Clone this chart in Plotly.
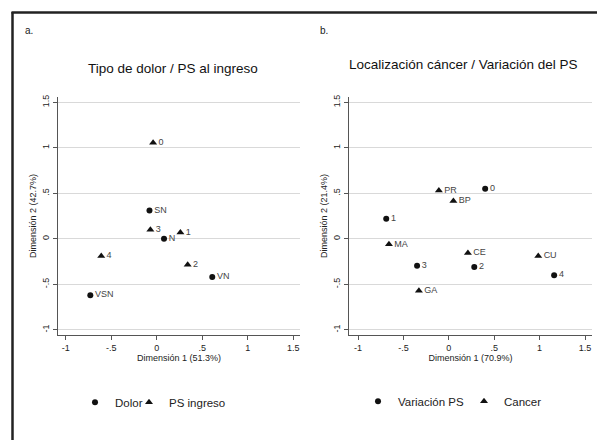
import plotly.graph_objects as go

# ---- Data (panel a) ----
dolor_labels = ["SN", "N", "VN", "VSN"]
dolor_x = [-0.08, 0.08, 0.61, -0.73]
dolor_y = [0.31, 0.0, -0.42, -0.62]

psing_labels = ["0", "1", "2", "3", "4"]
psing_x = [-0.04, 0.26, 0.34, -0.07, -0.61]
psing_y = [1.055, 0.07, -0.285, 0.10, -0.19]

# ---- Data (panel b) ----
varps_labels = ["0", "1", "2", "3", "4"]
varps_x = [0.40, -0.69, 0.28, -0.35, 1.16]
varps_y = [0.55, 0.22, -0.31, -0.295, -0.40]

cancer_labels = ["PR", "BP", "MA", "CE", "GA", "CU"]
cancer_x = [-0.11, 0.05, -0.66, 0.21, -0.33, 0.985]
cancer_y = [0.53, 0.415, -0.06, -0.155, -0.57, -0.19]

tick_vals = [-1, -0.5, 0, 0.5, 1, 1.5]
tick_text = ["-1", "-.5", "0", ".5", "1", "1.5"]

FONT = "Liberation Sans, Arial, Helvetica, sans-serif"
OFF = 8  # page body margin
W, H = 605 - OFF, 442 - OFF

def px_x(p):
    return (p - OFF) / W

def px_y(p):
    return 1 - (p - OFF) / H

fig = go.Figure()

def add_pts(x, y, labels, symbol, name, xa, ya, legend):
    fig.add_trace(go.Scatter(
        x=x, y=y, text=labels, mode="markers+text",
        textposition="middle right",
        textfont=dict(size=9, color="#444", family=FONT),
        marker=dict(symbol=symbol, size=6 if symbol == "circle" else 7, color="#111"),
        name=name, xaxis=xa, yaxis=ya, legend=legend, cliponaxis=False,
    ))

add_pts(dolor_x, dolor_y, dolor_labels, "circle", "Dolor", "x", "y", "legend")
add_pts(psing_x, psing_y, psing_labels, "triangle-up", "PS ingreso", "x", "y", "legend2")
add_pts(varps_x, varps_y, varps_labels, "circle", "Variación PS", "x2", "y2", "legend3")
add_pts(cancer_x, cancer_y, cancer_labels, "triangle-up", "Cancer", "x2", "y2", "legend4")

ydom = [px_y(334), px_y(95)]

xcommon = dict(
    tickvals=tick_vals, ticktext=tick_text, showgrid=False, zeroline=False,
    showline=True, linecolor="#555", linewidth=1, ticks="outside", ticklen=4,
    tickcolor="#555", tickfont=dict(size=9, color="#222", family=FONT),
    title_font=dict(size=9, color="#222", family=FONT), title_standoff=2,
)
ycommon = dict(
    tickvals=tick_vals, ticktext=tick_text, showgrid=True, gridcolor="#d9d9d9",
    gridwidth=1, zeroline=False, showline=True, linecolor="#555", linewidth=1,
    ticks="outside", ticklen=4, tickcolor="#555", tickangle=-90,
    tickfont=dict(size=9, color="#222", family=FONT),
    title_font=dict(size=9, color="#222", family=FONT), title_standoff=3,
    range=[-1.055, 1.555],
)

def leg(text_start, yc):
    return dict(orientation="h", x=px_x(text_start - 40), xanchor="left",
                y=px_y(yc), yanchor="middle",
                font=dict(size=11.5, family=FONT, color="#222"),
                bgcolor="rgba(0,0,0,0)", borderwidth=0)

fig.update_layout(
    width=W, height=H,
    margin=dict(l=0, r=0, t=0, b=0),
    paper_bgcolor="white", plot_bgcolor="white",
    font=dict(family=FONT, color="#222"),
    xaxis=dict(domain=[px_x(58), px_x(300)], range=[-1.085, 1.574], anchor="y",
               title_text="Dimensión 1 (51.3%)", **xcommon),
    yaxis=dict(domain=ydom, anchor="x", title_text="Dimensión 2 (42.7%)", **ycommon),
    xaxis2=dict(domain=[px_x(349), px_x(592)], range=[-1.10, 1.577], anchor="y2",
                title_text="Dimensión 1 (70.9%)", **xcommon),
    yaxis2=dict(domain=ydom, anchor="x2", title_text="Dimensión 2 (21.4%)", **ycommon),
    legend=leg(115, 402),
    legend2=leg(169, 402),
    legend3=leg(398, 401),
    legend4=leg(504, 401),
    showlegend=True,
)

annots = [
    dict(text="a.", x=px_x(23), y=px_y(28), xanchor="left", yanchor="middle",
         font=dict(size=10, color="#222", family=FONT)),
    dict(text="b.", x=px_x(318), y=px_y(28), xanchor="left", yanchor="middle",
         font=dict(size=10, color="#222", family=FONT)),
    dict(text="Tipo de dolor / PS al ingreso", x=px_x(173), y=px_y(66),
         xanchor="center", yanchor="middle",
         font=dict(size=13.5, color="#111", family=FONT)),
    dict(text="Localización cáncer / Variación del PS", x=px_x(463), y=px_y(62),
         xanchor="center", yanchor="middle",
         font=dict(size=13.5, color="#111", family=FONT)),
]
for a in annots:
    fig.add_annotation(xref="paper", yref="paper", showarrow=False, **a)

# frame rules (left and top) -- kept just inside the paper edges
fig.add_shape(type="line", xref="paper", yref="paper",
              x0=px_x(12.5), x1=px_x(12.5), y0=px_y(440), y1=px_y(9),
              line=dict(color="#222222", width=2.5))
fig.add_shape(type="line", xref="paper", yref="paper",
              x0=px_x(11.5), x1=px_x(603), y0=px_y(9.5), y1=px_y(9.5),
              line=dict(color="#222222", width=2.5))

fig.write_html("out.html")
